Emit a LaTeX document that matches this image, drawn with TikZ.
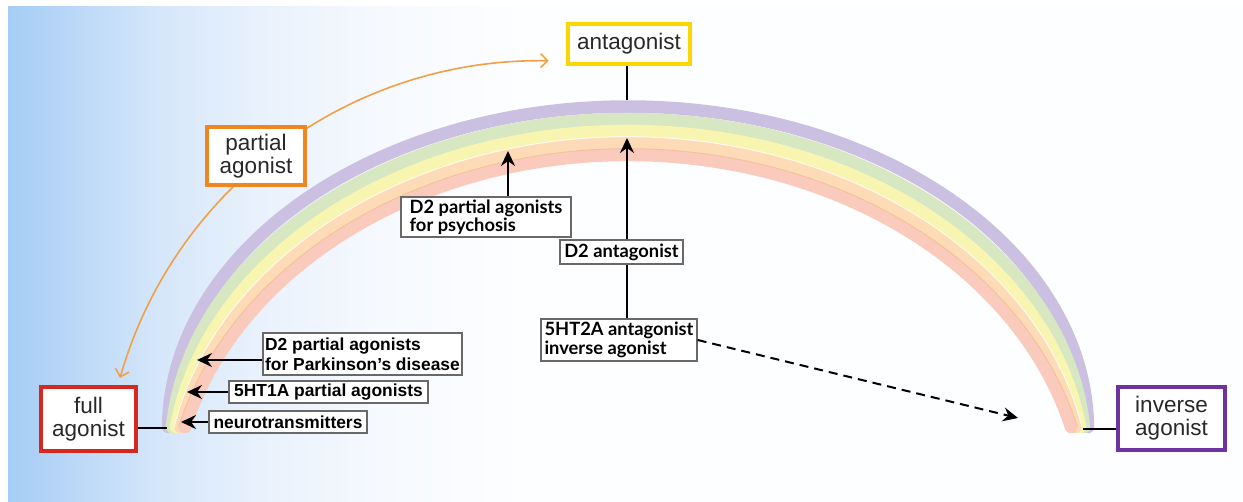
\documentclass[tikz,border=0pt]{standalone}
\usepackage{fontspec}
\setmainfont{Liberation Sans}
\newfontfamily\lato{Lato}
\usetikzlibrary{arrows.meta}
\definecolor{bgA}{RGB}{165,205,245}
\definecolor{bgB}{RGB}{185,215,247}
\definecolor{bgC}{RGB}{212,230,250}
\definecolor{bgD}{RGB}{232,241,252}
\definecolor{bgE}{RGB}{246,249,254}
\definecolor{bgF}{RGB}{253,254,255}
\pgfdeclarehorizontalshading{bgshade}{100bp}{color(0bp)=(bgA); color(25bp)=(bgA); color(27.5bp)=(bgB); color(31bp)=(bgC); color(35bp)=(bgD); color(40bp)=(bgE); color(46bp)=(bgF); color(100bp)=(bgF)}
\definecolor{cpurple}{RGB}{203,192,225}
\definecolor{cgreen}{RGB}{214,231,194}
\definecolor{cyellow}{RGB}{247,245,176}
\definecolor{cpeach}{RGB}{252,219,182}
\definecolor{cpink}{RGB}{250,203,188}
\definecolor{cpinkline}{RGB}{245,185,140}
\definecolor{antyellow}{RGB}{252,214,0}
\definecolor{partorange}{RGB}{240,135,30}
\definecolor{fullred}{RGB}{215,40,30}
\definecolor{invpurple}{RGB}{112,50,160}
\definecolor{arcorange}{RGB}{240,160,70}
\definecolor{boxgray}{RGB}{105,105,105}
\definecolor{txt}{RGB}{40,40,40}
\tikzset{
  bigbox/.style={draw, line width=4pt, fill=white, text=txt, font=\fontsize{22.5}{23}\selectfont, align=center, inner sep=0pt},
  lblbox/.style={draw=boxgray, line width=1.2pt, fill=white, text=black, font=\fontsize{17.4}{20}\selectfont\bfseries, align=left, inner sep=0pt},
  latobox/.style={lblbox, font=\lato\fontsize{18.3}{18.5}\selectfont\bfseries},
  band/.style={line width=12.5pt, line cap=round},
  blk/.style={line width=2.4pt, black},
  blkarrow/.style={blk, -{Stealth[length=15pt,width=14pt,inset=5pt]}},
  orangearc/.style={arcorange, line width=1.6pt, {Straight Barb[length=7pt,width=14pt]}-{Straight Barb[length=7pt,width=14pt]}}
}
% #1 style, #2 centre y, #3 top y, #4 x radius
\newcommand\rbarc[4]{%
  \pgfmathsetmacro\rbRy{#2-#3}%
  \pgfmathsetmacro\rbAl{asin((#2-427)/\rbRy)}%
  \pgfmathsetmacro\rbXs{628-#4*cos(\rbAl)}%
  \draw[#1] (\rbXs,427) arc[start angle={180+\rbAl}, end angle={360-\rbAl}, x radius=#4, y radius=\rbRy];
}
\begin{document}
\begin{tikzpicture}[x=1pt,y=-1pt]
\useasboundingbox (0,0) rectangle (1243,502);
\fill[white] (0,0) rectangle (1243,502);
\fill[shading=bgshade] (8,7) rectangle (1243,502);
% rainbow
\rbarc{band,cpurple}{430}{106.5}{460}
\rbarc{band,cgreen}{452}{119}{457.3}
\rbarc{band,cyellow}{474}{131}{456.3}
\rbarc{band,cpeach}{496}{143}{456.3}
\rbarc{white,line width=1pt,opacity=0.8}{496}{136.75}{462.5}
\rbarc{band,cpink}{518}{155}{457.6}
\rbarc{cpinkline,line width=0.9pt,opacity=0.7}{518}{148.75}{463.8}
% orange double arrow (behind partial agonist box)
\coordinate (ofa) at (120,378);
\draw[orangearc] (ofa) arc[start angle=196, end angle=271, radius=438];
% main boxes
\node[bigbox, draw=antyellow, minimum width=122, minimum height=40] (ant) at (629,44) {antagonist};
\node[bigbox, draw=partorange, minimum width=98, minimum height=58] (part) at (256,156) {partial\\agonist};
\node[bigbox, draw=fullred, minimum width=95, minimum height=64] (fa) at (88.5,419) {full\\agonist};
\node[bigbox, draw=invpurple, minimum width=107, minimum height=63] (inv) at (1171.5,418.5) {inverse\\agonist};
% label boxes
\node[latobox, minimum width=170, minimum height=40] (psy) at (486,217) {D2 partial agonists\\for psychosis};
\node[latobox, minimum width=123, minimum height=24] (d2a) at (621.5,252) {D2 antagonist};
\node[latobox, minimum width=156, minimum height=42] (ht2a) at (619,340) {5HT2A antagonist\\inverse agonist};
\node[lblbox, minimum width=199, minimum height=42] (park) at (362.5,354) {D2 partial agonists\\for Parkinson’s disease};
\node[lblbox, minimum width=199, minimum height=22] (ht1a) at (328.5,392) {5HT1A partial agonists};
\node[lblbox, minimum width=158, minimum height=22] (neu) at (288,422) {neurotransmitters};
% connectors
\coordinate (atop) at (627,100);
\draw[blk, line width=2pt] (ant.south -| atop) -- (atop);
\coordinate (lfa) at (167,428);
\draw[blk, line width=2pt] (fa.east |- lfa) -- (lfa);
\coordinate (linv) at (1083,429);
\draw[blk, line width=2pt] (linv) -- (inv.west |- linv);
\coordinate (tpsy) at (508,151);
\draw[blkarrow] (psy.north -| tpsy) -- (tpsy);
\coordinate (tant) at (627,138);
\draw[blkarrow] (d2a.north -| tant) -- (tant);
\draw[blk] (ht2a.north -| tant) -- (d2a.south -| tant);
\coordinate (tpark) at (197,360);
\draw[blkarrow] (park.west |- tpark) -- (tpark);
\coordinate (tht1a) at (187,392);
\draw[blkarrow] (ht1a.west |- tht1a) -- (tht1a);
\coordinate (tneu) at (181,422);
\draw[blkarrow] (neu.west |- tneu) -- (tneu);
\coordinate (tdash) at (1018,418);
\draw[blk, line width=2pt, dash pattern=on 9pt off 6pt, -{Stealth[length=15pt,width=14pt,inset=5pt]}] (ht2a.east) -- (tdash);
\end{tikzpicture}
\end{document}
